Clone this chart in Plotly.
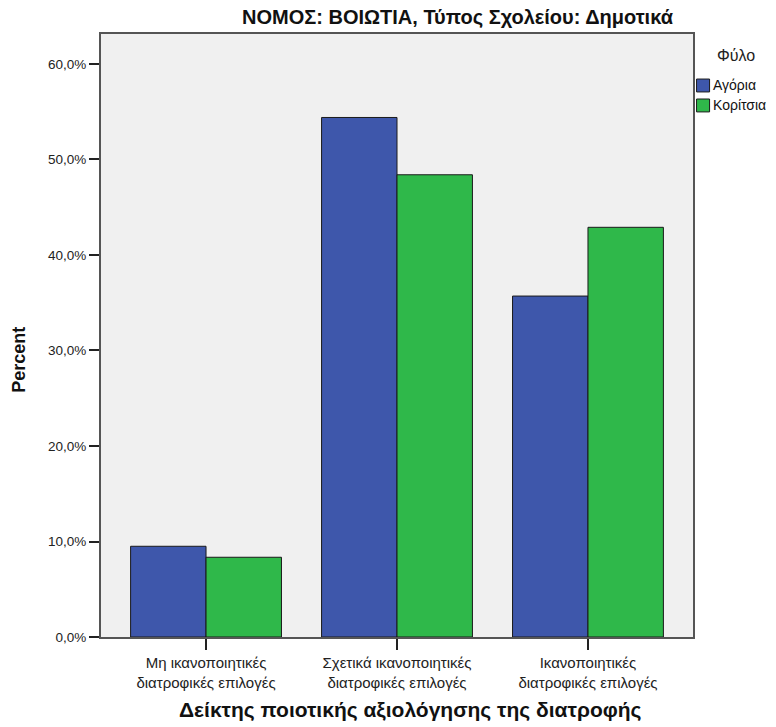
import plotly.graph_objects as go

categories = ["Μη ικανοποιητικές<br>διατροφικές επιλογές",
              "Σχετικά ικανοποιητικές<br>διατροφικές επιλογές",
              "Ικανοποιητικές<br>διατροφικές επιλογές"]
boys = [9.5, 54.4, 35.7]
girls = [8.35, 48.4, 42.9]
series_names = ["Αγόρια", "Κορίτσια"]
series_colors = ["#3e57ab", "#2fb84a"]
y_ticks = [0, 10, 20, 30, 40, 50, 60]
y_tick_text = [f"{v:.1f}%".replace(".", ",") for v in y_ticks]

xpos = list(range(len(categories)))
FONT = "Liberation Sans, Arial, sans-serif"

fig = go.Figure()
for name, vals, col in zip(series_names, [boys, girls], series_colors):
    fig.add_trace(go.Bar(x=xpos, y=vals, name=name, showlegend=False,
                         marker=dict(color=col, line=dict(color="#1a1a1a", width=1))))

fig.update_layout(
    width=776, height=727,
    margin=dict(l=101, r=83, t=34, b=89.5),
    barmode="group", bargap=0.21, bargroupgap=0,
    plot_bgcolor="#f0f0f0", paper_bgcolor="white",
    font=dict(family=FONT, size=13, color="#222"),
    title=dict(text="<b>ΝΟΜΟΣ: ΒΟΙΩΤΙΑ, Τύπος Σχολείου: Δημοτικά</b>",
               x=457.5 / 776, xanchor="center", y=1 - 17 / 727, yanchor="middle",
               font=dict(family=FONT, size=20, color="#111")),
    showlegend=False,
)

# axis titles (SPSS places them slightly off the axis centre)
fig.add_annotation(xref="paper", yref="paper", x=-0.140, y=0.46, text="<b>Percent</b>",
                   showarrow=False, textangle=-90, xanchor="center", yanchor="middle",
                   font=dict(family=FONT, size=18, color="#111"))
fig.add_annotation(xref="paper", yref="paper", x=0.522, y=-0.1218,
                   text="<b>Δείκτης ποιοτικής αξιολόγησης της διατροφής</b>",
                   showarrow=False, xanchor="center", yanchor="middle",
                   font=dict(family=FONT, size=21, color="#111"))

# legend (drawn manually to mimic the compact SPSS legend)
fig.add_annotation(xref="paper", yref="paper", x=1.072, y=0.965, text="Φύλο",
                   showarrow=False, xanchor="center", yanchor="middle",
                   font=dict(family=FONT, size=16, color="#222"))
for i, (name, col) in enumerate(zip(series_names, series_colors)):
    yc = 0.9146 - i * 0.0331
    fig.add_shape(type="rect", xref="paper", yref="paper",
                  x0=1.006, x1=1.028, y0=yc - 0.0107, y1=yc + 0.0107,
                  fillcolor=col, line=dict(color="#1a1a1a", width=1))
    fig.add_annotation(xref="paper", yref="paper", x=1.030, y=yc, text=name,
                       showarrow=False, xanchor="left", yanchor="middle",
                       font=dict(family=FONT, size=14, color="#111"))

fig.update_xaxes(range=[-0.55, 2.55], tickmode="array", tickvals=xpos, ticktext=categories,
                 showline=True, mirror=True, linecolor="#555", linewidth=2,
                 ticks="outside", ticklen=11, tickcolor="#222", tickwidth=1.5,
                 showgrid=False, zeroline=False,
                 tickfont=dict(size=15, color="#222"))
fig.update_yaxes(range=[0, 63.14], tickmode="array", tickvals=y_ticks, ticktext=y_tick_text,
                 showline=True, mirror=True, linecolor="#555", linewidth=2,
                 ticks="outside", ticklen=10, tickcolor="#222", tickwidth=1.5,
                 showgrid=False, zeroline=False,
                 tickfont=dict(size=13.5, color="#222"))

fig.write_html("out.html", config={"displayModeBar": False},
               post_script="document.body.style.margin='0';")
